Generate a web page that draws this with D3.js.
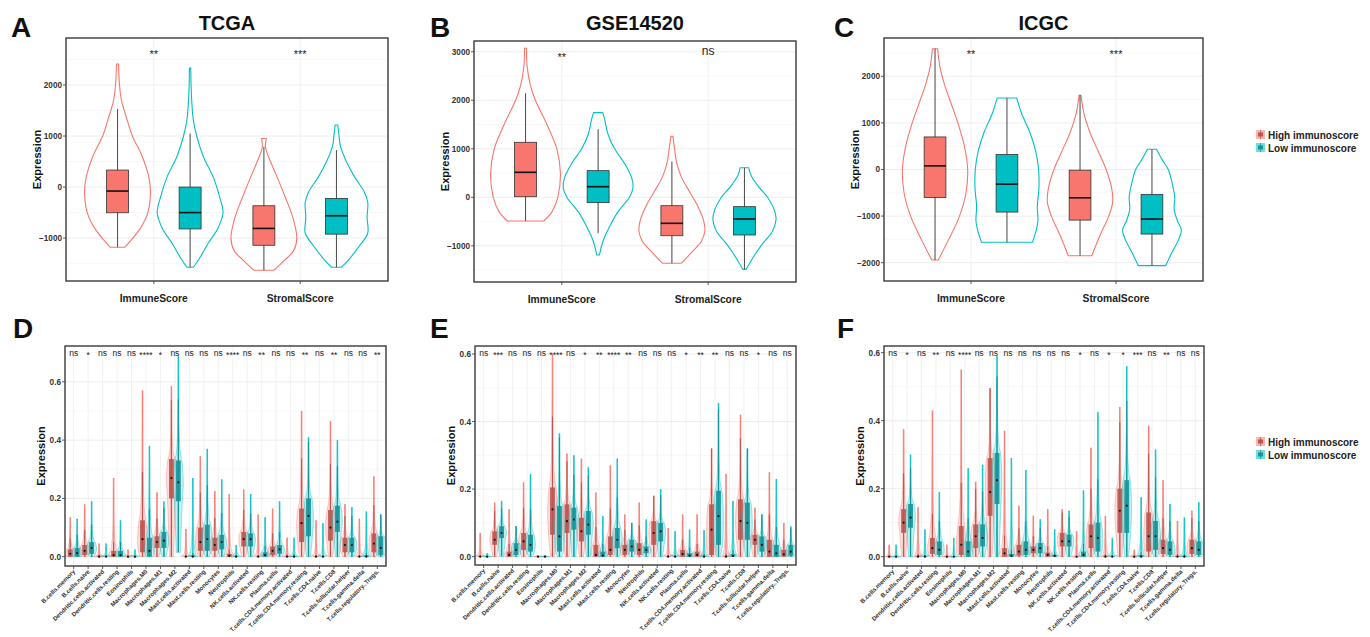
<!DOCTYPE html>
<html>
<head>
<meta charset="utf-8">
<script src="https://cdn.jsdelivr.net/npm/d3@7"></script>
<style>
  body { margin: 0; background: #fff; }
  text { font-family: "Liberation Sans", Arial, sans-serif; }
</style>
</head>
<body>
<svg id="fig" width="1370" height="637"></svg>
<script>
/* globals d3 */
var groups = ["High immunoscore", "Low immunoscore"];
var colors = ["#F8766D", "#00BFC4"];
var darkColors = ["#bd5550", "#15959a"];
var scoreCats = ["ImmuneScore", "StromalScore"];

var tcgaTicks = [-1000, 0, 1000, 2000];
var gseTicks = [-1000, 0, 1000, 2000, 3000];
var icgcTicks = [-2000, -1000, 0, 1000, 2000];
var fracTicks = [0, 0.2, 0.4, 0.6];

// box stats: [lower whisker, q1, median, q3, upper whisker]
var tcgaHigh = [[-1180, -503, -78, 333, 1530], [-1630, -1140, -810, -366, 790]];
var tcgaLow = [[-1570, -820, -500, 0, 1050], [-1570, -922, -562, -222, 725]];
var tcgaSig = ["**", "***"];
// violin outlines: [value, relative half width]
var tcgaViolinHigh = [
  [[2412, 0.03], [2000, 0.06], [1700, 0.12], [1300, 0.3], [1000, 0.45], [600, 0.75], [200, 0.95], [-100, 1.0], [-500, 0.92], [-800, 0.7], [-1050, 0.4], [-1180, 0.22]],
  [[950, 0.07], [780, 0.05], [500, 0.2], [200, 0.4], [-200, 0.65], [-600, 0.88], [-1000, 1.0], [-1250, 0.9], [-1450, 0.6], [-1630, 0.3]]
];
var tcgaViolinLow = [
  [[2330, 0.02], [1800, 0.04], [1300, 0.1], [1000, 0.2], [600, 0.4], [200, 0.7], [-200, 0.9], [-500, 1.0], [-800, 0.85], [-1100, 0.55], [-1400, 0.28], [-1570, 0.1]],
  [[1215, 0.04], [1050, 0.07], [800, 0.12], [500, 0.3], [200, 0.55], [-100, 0.85], [-300, 0.95], [-600, 0.93], [-900, 0.95], [-1150, 0.7], [-1400, 0.4], [-1570, 0.15]]
];

var gseHigh = [[-489, 12, 515, 1134, 2144], [-1361, -792, -536, -173, 740]];
var gseLow = [[-742, -110, 219, 549, 1402], [-1485, -777, -447, -193, 610]];
var gseSig = ["**", "ns"];
var gseViolinHigh = [
  [[3072, 0.03], [2700, 0.05], [2300, 0.15], [2000, 0.3], [1500, 0.65], [1000, 0.95], [500, 1.06], [0, 0.98], [-300, 0.8], [-489, 0.55]],
  [[1255, 0.03], [1000, 0.08], [700, 0.15], [400, 0.3], [100, 0.55], [-200, 0.8], [-500, 0.97], [-700, 1.0], [-900, 0.9], [-1100, 0.65], [-1361, 0.28]]
];
var gseViolinLow = [
  [[1745, 0.14], [1600, 0.2], [1300, 0.3], [1000, 0.5], [700, 0.8], [400, 1.02], [200, 1.06], [0, 0.95], [-300, 0.6], [-600, 0.35], [-900, 0.15], [-1190, 0.04]],
  [[610, 0.13], [450, 0.2], [200, 0.45], [0, 0.7], [-250, 0.9], [-450, 0.96], [-700, 0.85], [-1000, 0.5], [-1200, 0.3], [-1485, 0.05]]
];

var icgcHigh = [[-1942, -600, 77, 698, 2590], [-1850, -1086, -608, -15, 1591]];
var icgcLow = [[-1563, -914, -315, 321, 1533], [-2064, -1386, -1064, -535, 433]];
var icgcSig = ["**", "***"];
var icgcViolinHigh = [
  [[2590, 0.08], [2200, 0.15], [1800, 0.3], [1400, 0.5], [1000, 0.7], [500, 0.9], [0, 1.0], [-500, 0.95], [-1000, 0.75], [-1500, 0.42], [-1942, 0.1]],
  [[1591, 0.03], [1200, 0.12], [800, 0.3], [400, 0.55], [0, 0.8], [-400, 0.97], [-700, 1.0], [-1000, 0.88], [-1400, 0.62], [-1850, 0.36]]
];
var icgcViolinLow = [
  [[1533, 0.3], [1200, 0.45], [800, 0.7], [400, 0.88], [0, 0.97], [-400, 0.98], [-800, 0.93], [-1100, 0.95], [-1350, 0.88], [-1563, 0.78]],
  [[433, 0.14], [200, 0.32], [0, 0.5], [-300, 0.62], [-600, 0.7], [-850, 0.68], [-1100, 0.78], [-1300, 0.9], [-1500, 0.82], [-1800, 0.6], [-2064, 0.42]]
];

var cellTypes = ["B.cells.memory", "B.cells.naive", "Dendritic.cells.activated", "Dendritic.cells.resting",
  "Eosinophils", "Macrophages.M0", "Macrophages.M1", "Macrophages.M2", "Mast.cells.activated",
  "Mast.cells.resting", "Monocytes", "Neutrophils", "NK.cells.activated", "NK.cells.resting",
  "Plasma.cells", "T.cells.CD4.memory.activated", "T.cells.CD4.memory.resting", "T.cells.CD4.naive",
  "T.cells.CD8", "T.cells.follicular.helper", "T.cells.gamma.delta", "T.cells.regulatory..Tregs."];

// [min, q1, median, q3, max]
var tcgaCellHigh = [[0,0,0.01,0.025,0.135],[0,0.005,0.02,0.04,0.18],[0,0,0,0.003,0.045],[0,0,0.005,0.02,0.27],
  [0,0,0,0,0.025],[0,0.015,0.06,0.125,0.57],[0,0.03,0.05,0.07,0.22],[0,0.2,0.27,0.335,0.585],
  [0,0,0,0.002,0.095],[0,0.02,0.05,0.1,0.345],[0,0.02,0.04,0.065,0.225],[0,0,0.003,0.01,0.215],
  [0,0.035,0.06,0.085,0.23],[0,0,0,0.002,0.145],[0,0.005,0.02,0.035,0.165],[0,0,0,0.003,0.065],
  [0,0.05,0.115,0.165,0.5],[0,0,0,0.002,0.125],[0,0.055,0.1,0.16,0.465],[0,0.015,0.04,0.065,0.18],
  [0,0,0,0.002,0.13],[0,0.015,0.045,0.08,0.275]];
var tcgaCellLow = [[0,0,0.012,0.03,0.13],[0,0.01,0.03,0.05,0.19],[0,0,0,0.002,0.045],[0,0,0.005,0.02,0.125],
  [0,0,0,0,0.025],[0,0,0.02,0.065,0.38],[0,0.03,0.055,0.085,0.19],[0.015,0.19,0.255,0.33,0.69],
  [0,0,0,0.005,0.27],[0,0.02,0.06,0.11,0.37],[0,0.025,0.05,0.075,0.265],[0,0,0,0.003,0.04],
  [0,0.035,0.06,0.08,0.215],[0,0,0.005,0.015,0.135],[0,0.01,0.025,0.04,0.19],[0,0,0,0.003,0.065],
  [0,0.07,0.14,0.2,0.41],[0,0,0,0.002,0.115],[0,0.085,0.12,0.175,0.4],[0,0.015,0.04,0.065,0.17],
  [0,0,0,0.005,0.155],[0,0.005,0.03,0.07,0.145]];
var tcgaCellSig = ["ns","*","ns","ns","ns","****","*","ns","ns","ns","ns","****","ns","**","ns","ns","**","ns","**","ns","ns","**"];

var gseCellHigh = [[0,0,0,0.002,0.07],[0,0.035,0.05,0.075,0.16],[0,0,0.005,0.015,0.14],[0,0.02,0.045,0.07,0.22],
  [0,0,0,0,0.003],[0,0.065,0.14,0.205,0.6],[0,0.07,0.105,0.155,0.305],[0,0.045,0.075,0.115,0.29],
  [0,0,0.005,0.035,0.19],[0,0.005,0.02,0.06,0.27],[0,0.005,0.02,0.035,0.125],[0,0.005,0.02,0.04,0.16],
  [0,0.035,0.07,0.105,0.18],[0,0,0,0.002,0.085],[0,0,0.008,0.02,0.125],[0,0,0.005,0.015,0.125],
  [0,0.005,0.08,0.155,0.32],[0,0,0,0.003,0.245],[0,0.05,0.105,0.17,0.42],[0,0.035,0.05,0.065,0.145],
  [0,0,0.015,0.05,0.25],[0,0,0.007,0.02,0.1]];
var gseCellLow = [[0,0,0,0,0.01],[0,0.055,0.07,0.09,0.165],[0,0.005,0.02,0.04,0.09],[0,0.015,0.035,0.065,0.245],
  [0,0,0,0,0.003],[0,0.015,0.06,0.15,0.365],[0,0.08,0.11,0.145,0.3],[0,0.065,0.095,0.135,0.265],
  [0,0,0.003,0.015,0.12],[0,0.025,0.05,0.085,0.29],[0,0.015,0.03,0.05,0.1],[0,0.01,0.02,0.03,0.11],
  [0,0.045,0.075,0.1,0.2],[0,0,0,0.002,0.075],[0,0,0.003,0.01,0.08],[0,0,0,0.003,0.078],
  [0,0.035,0.12,0.195,0.455],[0,0,0.002,0.008,0.165],[0,0.05,0.1,0.16,0.32],[0,0.015,0.035,0.06,0.125],
  [0,0,0.01,0.035,0.23],[0,0.003,0.015,0.035,0.09]];
var gseCellSig = ["ns","***","ns","ns","ns","****","ns","*","**","****","**","ns","ns","ns","*","**","**","ns","ns","*","ns","ns"];

var icgcCellHigh = [[0,0,0,0,0.035],[0,0.07,0.1,0.14,0.375],[0,0,0,0.003,0.145],[0,0.008,0.025,0.055,0.43],
  [0,0,0,0,0.035],[0,0.005,0.035,0.09,0.55],[0,0.025,0.06,0.095,0.22],[0,0.12,0.19,0.29,0.495],
  [0,0,0.01,0.025,0.37],[0,0.003,0.015,0.035,0.15],[0,0.01,0.02,0.03,0.12],[0,0,0.005,0.012,0.14],
  [0,0.03,0.045,0.07,0.14],[0,0,0,0,0.075],[0,0.025,0.06,0.095,0.32],[0,0,0,0.003,0.12],
  [0,0.07,0.135,0.2,0.44],[0,0,0,0,0.02],[0,0.015,0.06,0.13,0.385],[0,0.008,0.025,0.05,0.225],
  [0,0,0,0.003,0.105],[0,0.008,0.025,0.05,0.135]];
var icgcCellLow = [[0,0,0,0,0.035],[0,0.085,0.115,0.155,0.3],[0,0,0,0.002,0.08],[0,0.005,0.02,0.045,0.19],
  [0,0,0,0,0.055],[0,0,0.015,0.045,0.26],[0,0.03,0.055,0.095,0.27],[0,0.155,0.225,0.305,0.59],
  [0,0,0.002,0.008,0.29],[0,0.005,0.02,0.045,0.255],[0,0.01,0.025,0.04,0.11],[0,0,0.002,0.005,0.08],
  [0,0.03,0.045,0.065,0.135],[0,0,0.005,0.015,0.195],[0,0.015,0.055,0.1,0.425],[0,0,0,0.002,0.055],
  [0,0.07,0.15,0.225,0.56],[0,0,0,0.005,0.175],[0,0.02,0.06,0.105,0.315],[0,0.005,0.02,0.045,0.155],
  [0,0,0,0.003,0.115],[0,0.005,0.02,0.045,0.16]];
var icgcCellSig = ["ns","*","ns","**","ns","****","ns","ns","ns","ns","ns","ns","ns","*","ns","*","*","***","ns","**","ns","ns"];

var svg = d3.select("#fig");
var smooth = d3.line().curve(d3.curveCatmullRom.alpha(0.5));

// closed violin path from [[px, halfWidthPx], ...] ordered top to bottom
function violinPath(cx, pts){
  var right = pts.map(function(p){ return [cx + p[1], p[0]]; });
  var left = pts.slice().reverse().map(function(p){ return [cx - p[1], p[0]]; });
  return smooth(right) + smooth(left).replace(/^M/, "L") + "Z";
}

function frame(cfg, y, ticks, fmt, cats, x, minorTicks){
  var g = svg.append("g");
  g.selectAll(".minor").data(minorTicks).enter().append("line")
    .attr("x1", cfg.x0).attr("x2", cfg.x1)
    .attr("y1", function(d){ return y(d); }).attr("y2", function(d){ return y(d); })
    .style("stroke", "#f4f4f4").style("stroke-width", 0.6);
  g.selectAll(".major").data(ticks).enter().append("line")
    .attr("x1", cfg.x0).attr("x2", cfg.x1)
    .attr("y1", function(d){ return y(d); }).attr("y2", function(d){ return y(d); })
    .style("stroke", "#ebebeb").style("stroke-width", 0.9);
  g.selectAll(".vgrid").data(cats).enter().append("line")
    .attr("x1", function(d){ return x(d); }).attr("x2", function(d){ return x(d); })
    .attr("y1", cfg.y0).attr("y2", cfg.y1)
    .style("stroke", "#ededed").style("stroke-width", 0.8);
  // y ticks + labels
  g.selectAll(".yt").data(ticks).enter().append("line")
    .attr("x1", cfg.x0 - 3).attr("x2", cfg.x0)
    .attr("y1", function(d){ return y(d); }).attr("y2", function(d){ return y(d); })
    .style("stroke", "#333").style("stroke-width", 0.8);
  g.selectAll(".yl").data(ticks).enter().append("text")
    .attr("x", cfg.x0 - 4).attr("y", function(d){ return y(d) + 3; })
    .attr("text-anchor", "end")
    .style("font-size", "8.2px").style("font-weight", "bold").style("fill", "#333")
    .text(fmt);
  g.selectAll(".xt").data(cats).enter().append("line")
    .attr("x1", function(d){ return x(d); }).attr("x2", function(d){ return x(d); })
    .attr("y1", cfg.y1).attr("y2", cfg.y1 + 3)
    .style("stroke", "#333").style("stroke-width", 0.8);
  return g;
}

function border(cfg){
  svg.append("rect")
    .attr("x", cfg.x0).attr("y", cfg.y0)
    .attr("width", cfg.x1 - cfg.x0).attr("height", cfg.y1 - cfg.y0)
    .style("fill", "none").style("stroke", "#3a3a3a").style("stroke-width", 1.4);
}

function headings(cfg, yLabelX, yLabelY){
  svg.append("text").attr("x", cfg.lx).attr("y", cfg.ly)
    .style("font-size", "28px").style("font-weight", "bold").style("fill", "#111")
    .text(cfg.letter);
  if (cfg.title) {
    svg.append("text").attr("x", (cfg.x0 + cfg.x1) / 2).attr("y", 30)
      .attr("text-anchor", "middle")
      .style("font-size", "20px").style("font-weight", "bold").style("fill", "#111")
      .text(cfg.title);
  }
  svg.append("text")
    .attr("transform", "translate(" + yLabelX + "," + yLabelY + ") rotate(-90)")
    .attr("text-anchor", "middle")
    .style("font-size", "11px").style("font-weight", "bold").style("fill", "#111")
    .text("Expression");
}

function midpoints(ticks, lo, hi){
  var step = ticks[1] - ticks[0];
  var out = [];
  for (var i = -1; i < ticks.length; i++) {
    var m = (i < 0 ? ticks[0] - step : ticks[i]) + step / 2;
    if (m > lo && m < hi) out.push(m);
  }
  return out;
}

function topPanel(cfg){
  var x = d3.scalePoint().domain(scoreCats).range([cfg.x0, cfg.x1]).padding(0.6);
  var y = d3.scaleLinear().domain([cfg.lo, cfg.hi]).range([cfg.y1, cfg.y0]);
  var step = x.step();
  frame(cfg, y, cfg.ticks, d3.format("d"), scoreCats, x, midpoints(cfg.ticks, cfg.lo, cfg.hi));
  var hw = step * 0.225, bw = step * 0.075;
  var sets = [[cfg.high, cfg.vHigh], [cfg.low, cfg.vLow]];
  var g = svg.append("g");
  sets.forEach(function(set, gi){
    scoreCats.forEach(function(cat, ci){
      var cx = x(cat) + (gi === 0 ? -1 : 1) * step * 0.248;
      var prof = set[1][ci].map(function(p){ return [y(p[0]), p[1] * hw]; });
      g.append("path").attr("d", violinPath(cx, prof))
        .style("fill", "none").style("stroke", colors[gi]).style("stroke-width", 1.1);
      var s = set[0][ci];
      g.append("line").attr("x1", cx).attr("x2", cx)
        .attr("y1", y(s[0])).attr("y2", y(s[4]))
        .style("stroke", "#555").style("stroke-width", 1.1);
      g.append("rect").attr("x", cx - bw).attr("width", 2 * bw)
        .attr("y", y(s[3])).attr("height", y(s[1]) - y(s[3]))
        .style("fill", colors[gi]).style("stroke", "#333").style("stroke-width", 0.8);
      g.append("line").attr("x1", cx - bw).attr("x2", cx + bw)
        .attr("y1", y(s[2])).attr("y2", y(s[2]))
        .style("stroke", "#111").style("stroke-width", 1.6);
    });
  });
  scoreCats.forEach(function(cat, ci){
    var lab = cfg.sig[ci];
    var isNs = lab === "ns";
    g.append("text").attr("x", x(cat)).attr("y", cfg.y0 + (isNs ? 14 : 20))
      .attr("text-anchor", "middle")
      .style("font-size", isNs ? "12px" : "11px").style("fill", "#222")
      .text(lab);
    g.append("text").attr("x", x(cat)).attr("y", cfg.y1 + 21)
      .attr("text-anchor", "middle")
      .style("font-size", "10.3px").style("font-weight", "bold").style("fill", "#222")
      .text(cat);
  });
  border(cfg);
  headings(cfg, cfg.x0 - 25, (cfg.y0 + cfg.y1) / 2);
}

// violin outline points for the small cell-type violins, from the box stats
function cellProfile(s, y, hw){
  var raw = [
    [s[4], 0.03], [s[3] + (s[4] - s[3]) * 0.3, 0.16], [s[3] + (s[4] - s[3]) * 0.07, 0.42],
    [s[3], 0.7], [s[2], 1.0], [s[1], 0.8], [s[0], 0.4]
  ];
  var out = [];
  raw.forEach(function(p){
    var py = y(p[0]), w = p[1] * hw;
    var last = out[out.length - 1];
    if (last && py - last[0] < 0.8) { last[1] = Math.max(last[1], w); }
    else out.push([py, w]);
  });
  return out;
}

function cellPanel(cfg){
  var x = d3.scalePoint().domain(cellTypes).range([cfg.x0, cfg.x1]).padding(0.6);
  var y = d3.scaleLinear().domain([cfg.lo, cfg.hi]).range([cfg.y1, cfg.y0]);
  var step = x.step();
  frame(cfg, y, fracTicks, d3.format(".1f"), cellTypes, x, midpoints(fracTicks, cfg.lo, cfg.hi));
  var g = svg.append("g");
  var hw = step * 0.34, bw = step * 0.17;
  [cfg.high, cfg.low].forEach(function(stats, gi){
    cellTypes.forEach(function(cat, ci){
      var s = stats[ci];
      var cx = x(cat) + (gi === 0 ? -1 : 1) * step * 0.24;
      g.append("path").attr("d", violinPath(cx, cellProfile(s, y, hw)))
        .style("fill", colors[gi]).style("fill-opacity", 0.22)
        .style("stroke", colors[gi]).style("stroke-opacity", 0.55).style("stroke-width", 0.7);
      g.append("line").attr("x1", cx).attr("x2", cx)
        .attr("y1", y(s[0])).attr("y2", y(s[4]))
        .style("stroke", colors[gi]).style("stroke-opacity", 0.8).style("stroke-width", 1.5);
      var iqr = s[3] - s[1];
      var wHi = Math.min(s[4], s[3] + 1.5 * iqr), wLo = Math.max(s[0], s[1] - 1.5 * iqr);
      g.append("line").attr("x1", cx).attr("x2", cx)
        .attr("y1", y(wLo)).attr("y2", y(wHi))
        .style("stroke", darkColors[gi]).style("stroke-width", 1.1);
      g.append("rect").attr("x", cx - bw).attr("width", 2 * bw)
        .attr("y", y(s[3])).attr("height", Math.max(0.6, y(s[1]) - y(s[3])))
        .style("fill", darkColors[gi]).style("fill-opacity", 0.9);
      g.append("circle").attr("cx", cx).attr("cy", y(s[2])).attr("r", 1.1)
        .style("fill", "#111");
    });
  });
  cellTypes.forEach(function(cat, ci){
    var lab = cfg.sig[ci];
    g.append("text").attr("x", x(cat)).attr("y", cfg.y0 + (lab === "ns" ? 9.5 : 12))
      .attr("text-anchor", "middle")
      .style("font-size", "8.5px").style("fill", "#222")
      .text(lab);
    g.append("text")
      .attr("transform", "translate(" + (x(cat) + 2) + "," + (cfg.y1 + 6) + ") rotate(-45)")
      .attr("text-anchor", "end")
      .style("font-size", "6.1px").style("font-weight", "bold").style("fill", "#333")
      .text(cat);
  });
  border(cfg);
  headings(cfg, cfg.x0 - 20, (cfg.y0 + cfg.y1) / 2);
}

function legend(x0, y0){
  var g = svg.append("g");
  groups.forEach(function(name, i){
    var yy = y0 + i * 13;
    g.append("rect").attr("x", x0).attr("y", yy).attr("width", 9).attr("height", 9)
      .style("fill", colors[i]).style("fill-opacity", 0.55);
    g.append("rect").attr("x", x0 + 2).attr("y", yy + 2.5).attr("width", 5).attr("height", 4)
      .style("fill", darkColors[i]);
    g.append("line").attr("x1", x0 + 4.5).attr("x2", x0 + 4.5).attr("y1", yy).attr("y2", yy + 9)
      .style("stroke", darkColors[i]).style("stroke-width", 0.8);
    g.append("text").attr("x", x0 + 12).attr("y", yy + 8.5)
      .style("font-size", "10px").style("font-weight", "bold").style("fill", "#222")
      .text(name);
  });
}

var topPanels = [
  {letter: "A", lx: 11, ly: 37, title: "TCGA", x0: 66, x1: 388, y0: 38, y1: 281, lo: -1840, hi: 2920,
   ticks: tcgaTicks, high: tcgaHigh, low: tcgaLow, vHigh: tcgaViolinHigh, vLow: tcgaViolinLow, sig: tcgaSig},
  {letter: "B", lx: 430, ly: 37, title: "GSE14520", x0: 474, x1: 796, y0: 41, y1: 282, lo: -1746, hi: 3222,
   ticks: gseTicks, high: gseHigh, low: gseLow, vHigh: gseViolinHigh, vLow: gseViolinLow, sig: gseSig},
  {letter: "C", lx: 834, ly: 37, title: "ICGC", x0: 884, x1: 1203, y0: 38, y1: 281, lo: -2393, hi: 2821,
   ticks: icgcTicks, high: icgcHigh, low: icgcLow, vHigh: icgcViolinHigh, vLow: icgcViolinLow, sig: icgcSig}
];
var cellPanels = [
  {letter: "D", lx: 13, ly: 338, x0: 65, x1: 386, y0: 346, y1: 566, lo: -0.032, hi: 0.723,
   high: tcgaCellHigh, low: tcgaCellLow, sig: tcgaCellSig},
  {letter: "E", lx: 430, ly: 338, x0: 475, x1: 796, y0: 346, y1: 565, lo: -0.0247, hi: 0.6237,
   high: gseCellHigh, low: gseCellLow, sig: gseCellSig},
  {letter: "F", lx: 837, ly: 338, x0: 884, x1: 1204, y0: 346, y1: 566, lo: -0.0275, hi: 0.6196,
   high: icgcCellHigh, low: icgcCellLow, sig: icgcCellSig}
];

topPanels.forEach(topPanel);
cellPanels.forEach(cellPanel);
legend(1256, 130);
legend(1256, 437);
</script>
</body>
</html>
